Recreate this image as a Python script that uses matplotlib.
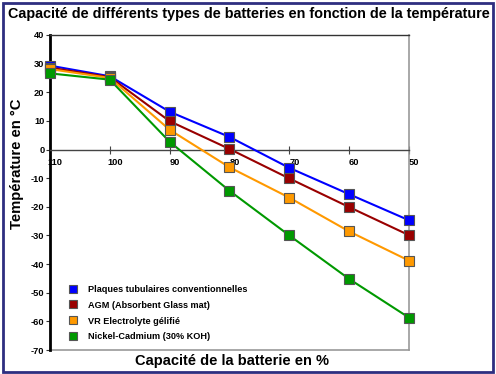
import matplotlib
matplotlib.use("Agg")
import matplotlib.pyplot as plt
from matplotlib.patches import Rectangle
from matplotlib.transforms import ScaledTranslation

plt.rcParams['font.family'] = ['Liberation Sans', 'DejaVu Sans']

capacity = [110, 100, 90, 80, 70, 60, 50]
series_names = ["Plaques tubulaires conventionnelles",
                "AGM (Absorbent Glass mat)",
                "VR Electrolyte gélifié",
                "Nickel-Cadmium (30% KOH)"]
tubular = [29.3, 25.6, 13.2, 4.4, -6.4, -15.6, -24.7]
agm = [28.6, 25.3, 9.9, 0.2, -10.1, -20.1, -29.9]
gel = [28.1, 25.0, 6.9, -6.2, -16.8, -28.6, -38.8]
nicd = [26.6, 24.4, 2.7, -14.4, -30.0, -45.2, -58.7]
colors = ["#0000ff", "#990000", "#ff9900", "#009900"]
x_ticks = [110, 100, 90, 80, 70, 60, 50]
y_ticks = [40, 30, 20, 10, 0, -10, -20, -30, -40, -50, -60, -70]

fig = plt.figure(figsize=(4.96, 3.74), dpi=100)
ax = fig.add_axes([50/496, 1-350/374, 359/496, 315/374])

for vals, name, c in zip([tubular, agm, gel, nicd], series_names, colors):
    ax.plot(capacity, vals, color=c, lw=1.5, marker='s', ms=7,
            mec='#555555', mew=0.8, label=name, zorder=3, clip_on=False)

ax.set_xlim(110, 50)
ax.set_ylim(-70, 40)
ax.set_xticks(x_ticks)
ax.set_xticklabels([str(v) for v in x_ticks])
ax.set_yticks(y_ticks)
ax.set_yticklabels([str(v) for v in y_ticks])

ax.spines['left'].set_color('black')
ax.spines['left'].set_linewidth(2)
ax.spines['top'].set_color('#333333')
ax.spines['top'].set_linewidth(1.0)
ax.spines['right'].set_color('#999999')
ax.spines['right'].set_linewidth(1.2)
ax.spines['bottom'].set_position(('data', 0))
ax.spines['bottom'].set_color('#444444')
ax.spines['bottom'].set_linewidth(1.0)
ax.axhline(-70, color='#999999', lw=1.2, zorder=1, clip_on=False)

ax.tick_params(axis='x', direction='inout', length=6, width=0.8, color='#444444',
               labelsize=6.7, pad=3)
ax.tick_params(axis='y', direction='out', length=3, width=0.8, color='#333333',
               labelsize=6.7, pad=1)
for lab in ax.get_xticklabels():
    lab.set_fontweight('bold')
    lab.set_transform(lab.get_transform() + ScaledTranslation(5/100, 0, fig.dpi_scale_trans))
for lab in ax.get_yticklabels():
    lab.set_fontweight('bold')

fig.text(8/496, 1-14/374, "Capacité de différents types de batteries en fonction de la température",
         fontsize=10.4, fontweight='bold', ha='left', va='center')
fig.text(17/496, 1-164/374, "Température en °C", fontsize=10.7, fontweight='bold',
         rotation=90, ha='center', va='center')
fig.text(232/496, 1-361/374, "Capacité de la batterie en %", fontsize=10.5,
         fontweight='bold', ha='center', va='center')

leg = ax.legend(loc='lower left', bbox_to_anchor=(0.025, 0.001), frameon=False,
                handlelength=1.2, handletextpad=1.1,
                labelspacing=0.75, prop={'weight': 'bold', 'size': 6.6})
for h in leg.legend_handles:
    h.set_linestyle('None')
    h.set_markersize(6)

fig.patches.append(Rectangle((2.5/496, 2/374), 490/496, 369.5/374, transform=fig.transFigure,
                             fill=False, edgecolor='#2e2e80', lw=2))

fig.savefig("out.png", dpi=100)
